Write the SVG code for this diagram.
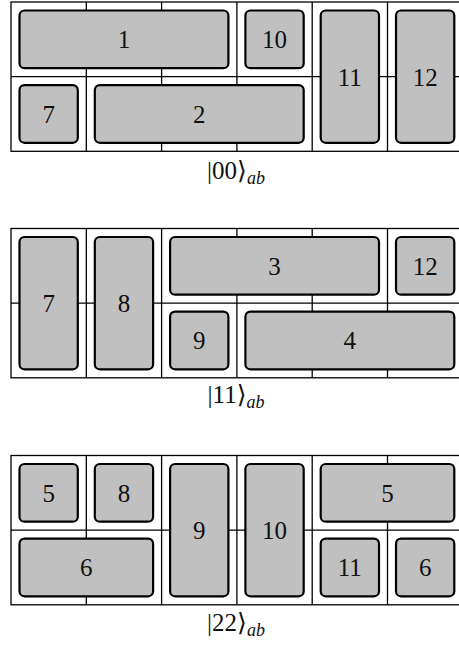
<svg xmlns="http://www.w3.org/2000/svg" width="459" height="650" viewBox="0 0 459 650">
<style>
.grid{fill:none;stroke:#000;stroke-width:1.3}
.box rect{fill:#c0c0c0;stroke:#000;stroke-width:2.2}
.box text,.lbl{font-family:"Liberation Serif","DejaVu Serif",serif;font-size:25px;fill:#111;text-anchor:middle}
.lbl{font-size:25px}
.sub{font-style:italic;font-size:18px}
</style>
<rect width="459" height="650" fill="#fff"/>
<g id="connectors">
<g class="grid" transform="translate(11,2)">
<rect x="0" y="0" width="451.8" height="149.3"/>
<line x1="0" y1="74.65" x2="451.8" y2="74.65"/>
<line x1="75.3" y1="0" x2="75.3" y2="149.3"/><line x1="150.6" y1="0" x2="150.6" y2="149.3"/><line x1="225.9" y1="0" x2="225.9" y2="149.3"/><line x1="301.2" y1="0" x2="301.2" y2="149.3"/><line x1="376.5" y1="0" x2="376.5" y2="149.3"/>
</g>
<g class="grid" transform="translate(11,228.5)">
<rect x="0" y="0" width="451.8" height="149.3"/>
<line x1="0" y1="74.65" x2="451.8" y2="74.65"/>
<line x1="75.3" y1="0" x2="75.3" y2="149.3"/><line x1="150.6" y1="0" x2="150.6" y2="149.3"/><line x1="225.9" y1="0" x2="225.9" y2="149.3"/><line x1="301.2" y1="0" x2="301.2" y2="149.3"/><line x1="376.5" y1="0" x2="376.5" y2="149.3"/>
</g>
<g class="grid" transform="translate(11,455.5)">
<rect x="0" y="0" width="451.8" height="149.3"/>
<line x1="0" y1="74.65" x2="451.8" y2="74.65"/>
<line x1="75.3" y1="0" x2="75.3" y2="149.3"/><line x1="150.6" y1="0" x2="150.6" y2="149.3"/><line x1="225.9" y1="0" x2="225.9" y2="149.3"/><line x1="301.2" y1="0" x2="301.2" y2="149.3"/><line x1="376.5" y1="0" x2="376.5" y2="149.3"/>
</g>
</g>
<!-- Panel 1 -->
<g transform="translate(11,2)">
<g id="p1-n1" class="box"><rect x="8.5" y="8.5" width="208.9" height="57.65" rx="5"/><text x="112.95" y="46">1</text></g>
<g id="p1-n10" class="box"><rect x="234.4" y="8.5" width="58.3" height="57.65" rx="5"/><text x="263.55" y="46">10</text></g>
<g id="p1-n11" class="box"><rect x="309.7" y="8.5" width="58.3" height="132.3" rx="5"/><text x="338.85" y="83.5">11</text></g>
<g id="p1-n12" class="box"><rect x="385" y="8.5" width="58.3" height="132.3" rx="5"/><text x="414.15" y="83.5">12</text></g>
<g id="p1-n7" class="box"><rect x="8.5" y="83.15" width="58.3" height="57.65" rx="5"/><text x="37.65" y="120.7">7</text></g>
<g id="p1-n2" class="box"><rect x="83.8" y="83.15" width="208.9" height="57.65" rx="5"/><text x="188.25" y="120.7">2</text></g>
</g>
<text id="lbl1" class="lbl" x="236" y="179">|00⟩<tspan class="sub" dy="5">ab</tspan></text>
<!-- Panel 2 -->
<g transform="translate(11,228.5)">
<g id="p2-n7" class="box"><rect x="8.5" y="8.5" width="58.3" height="132.3" rx="5"/><text x="37.65" y="83.5">7</text></g>
<g id="p2-n8" class="box"><rect x="83.8" y="8.5" width="58.3" height="132.3" rx="5"/><text x="112.95" y="83.5">8</text></g>
<g id="p2-n3" class="box"><rect x="159.1" y="8.5" width="208.9" height="57.65" rx="5"/><text x="263.55" y="46">3</text></g>
<g id="p2-n12" class="box"><rect x="385" y="8.5" width="58.3" height="57.65" rx="5"/><text x="414.15" y="46">12</text></g>
<g id="p2-n9" class="box"><rect x="159.1" y="83.15" width="58.3" height="57.65" rx="5"/><text x="188.25" y="120.7">9</text></g>
<g id="p2-n4" class="box"><rect x="234.4" y="83.15" width="208.9" height="57.65" rx="5"/><text x="338.85" y="120.7">4</text></g>
</g>
<text id="lbl2" class="lbl" x="236" y="403">|11⟩<tspan class="sub" dy="5">ab</tspan></text>
<!-- Panel 3 -->
<g transform="translate(11,455.5)">
<g id="p3-n5a" class="box"><rect x="8.5" y="8.5" width="58.3" height="57.65" rx="5"/><text x="37.65" y="46">5</text></g>
<g id="p3-n8" class="box"><rect x="83.8" y="8.5" width="58.3" height="57.65" rx="5"/><text x="112.95" y="46">8</text></g>
<g id="p3-n9" class="box"><rect x="159.1" y="8.5" width="58.3" height="132.3" rx="5"/><text x="188.25" y="83.5">9</text></g>
<g id="p3-n10" class="box"><rect x="234.4" y="8.5" width="58.3" height="132.3" rx="5"/><text x="263.55" y="83.5">10</text></g>
<g id="p3-n5b" class="box"><rect x="309.7" y="8.5" width="133.6" height="57.65" rx="5"/><text x="376.5" y="46">5</text></g>
<g id="p3-n6a" class="box"><rect x="8.5" y="83.15" width="133.6" height="57.65" rx="5"/><text x="75.3" y="120.7">6</text></g>
<g id="p3-n11" class="box"><rect x="309.7" y="83.15" width="58.3" height="57.65" rx="5"/><text x="338.85" y="120.7">11</text></g>
<g id="p3-n6b" class="box"><rect x="385" y="83.15" width="58.3" height="57.65" rx="5"/><text x="414.15" y="120.7">6</text></g>
</g>
<text id="lbl3" class="lbl" x="236" y="631">|22⟩<tspan class="sub" dy="5">ab</tspan></text>
</svg>
